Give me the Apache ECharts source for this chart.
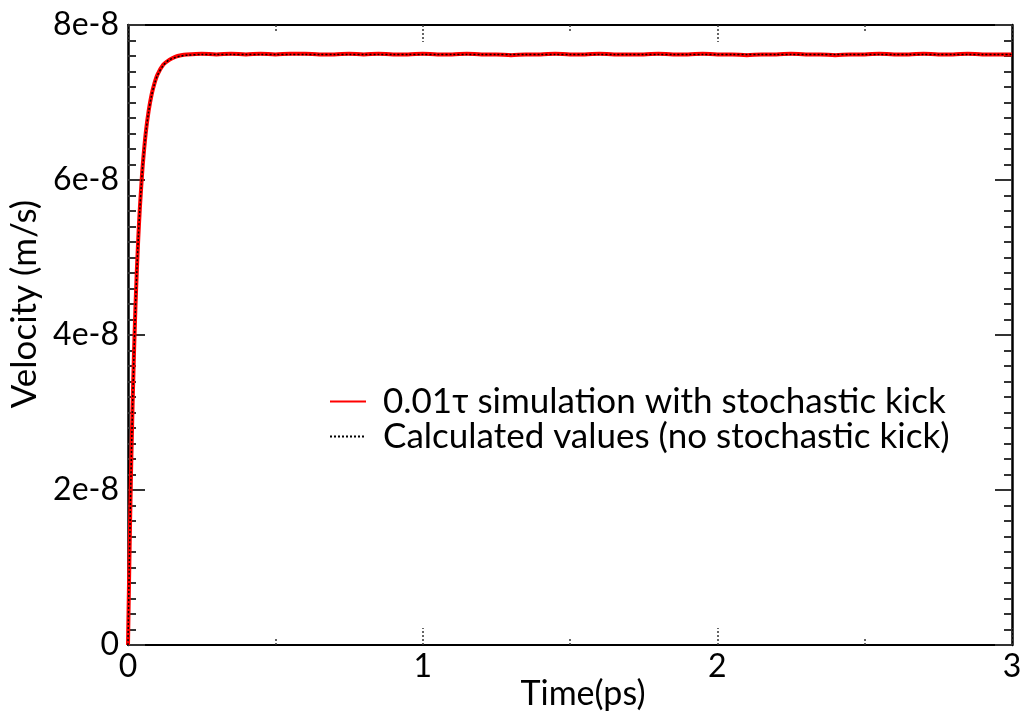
<!DOCTYPE html>
<html>
<head>
<meta charset="utf-8">
<script src="https://cdn.jsdelivr.net/npm/echarts@6/dist/echarts.min.js"></script>
<style>
  html, body { margin: 0; padding: 0; background: #fff; }
  #chart { width: 1023px; height: 717px; }
</style>
</head>
<body>
<div id="chart"></div>
<script>
// Time samples (ps)
const timePs = [0, 0.005, 0.01, 0.015, 0.02, 0.025, 0.03, 0.035, 0.04, 0.045, 0.05, 0.06, 0.07, 0.08, 0.09, 0.10,
  0.12, 0.14, 0.16, 0.18, 0.20, 0.25, 0.30, 0.35, 0.40, 0.45, 0.50, 0.55, 0.60, 0.65, 0.70, 0.75, 0.80, 0.85, 0.90, 0.95,
  1.00, 1.05, 1.10, 1.15, 1.20, 1.25, 1.30, 1.35, 1.40, 1.45, 1.50, 1.55, 1.60, 1.65, 1.70, 1.75, 1.80, 1.85, 1.90, 1.95,
  2.00, 2.05, 2.10, 2.15, 2.20, 2.25, 2.30, 2.35, 2.40, 2.45, 2.50, 2.55, 2.60, 2.65, 2.70, 2.75, 2.80, 2.85, 2.90, 2.95, 3.00];

// Velocity in units of 1e-8 m/s: simulation with stochastic kick
const velocitySim = [0, 1.15, 2.17, 3.01, 3.72, 4.33, 4.83, 5.26, 5.62, 5.92, 6.19, 6.60, 6.89, 7.10, 7.25, 7.36,
  7.49, 7.55, 7.59, 7.61, 7.62, 7.63, 7.62, 7.63, 7.62, 7.63, 7.62, 7.63, 7.63, 7.62, 7.62, 7.63, 7.62, 7.63, 7.62, 7.62,
  7.63, 7.62, 7.62, 7.63, 7.62, 7.62, 7.61, 7.62, 7.62, 7.63, 7.62, 7.62, 7.63, 7.62, 7.62, 7.62, 7.63, 7.62, 7.62, 7.63,
  7.62, 7.62, 7.61, 7.62, 7.62, 7.63, 7.62, 7.62, 7.61, 7.62, 7.62, 7.63, 7.62, 7.62, 7.63, 7.62, 7.62, 7.63, 7.62, 7.62, 7.62];

// Velocity in units of 1e-8 m/s: calculated values (no stochastic kick)
const velocityCalc = [0, 1.17, 2.16, 3.00, 3.71, 4.31, 4.82, 5.25, 5.61, 5.92, 6.18, 6.59, 6.88, 7.09, 7.24, 7.35,
  7.48, 7.55, 7.58, 7.60, 7.61, 7.62, 7.62, 7.62, 7.62, 7.62, 7.62, 7.62, 7.62, 7.62, 7.62, 7.62, 7.62, 7.62, 7.62, 7.62,
  7.62, 7.62, 7.62, 7.62, 7.62, 7.62, 7.62, 7.62, 7.62, 7.62, 7.62, 7.62, 7.62, 7.62, 7.62, 7.62, 7.62, 7.62, 7.62, 7.62,
  7.62, 7.62, 7.62, 7.62, 7.62, 7.62, 7.62, 7.62, 7.62, 7.62, 7.62, 7.62, 7.62, 7.62, 7.62, 7.62, 7.62, 7.62, 7.62, 7.62, 7.62];

const seriesNames = ['0.01τ simulation with stochastic kick', 'Calculated values (no stochastic kick)'];
const yTickLabels = { 0: '0', 2: '2e-8', 4: '4e-8', 6: '6e-8', 8: '8e-8' };

const FONT = 'Lato';
const chart = echarts.init(document.getElementById('chart'));

const pair = (xs, ys) => xs.map((x, i) => [x, ys[i]]);

// Frame axes: ticks point into the plot on all four sides
const xTickCommon = {
  type: 'value', min: 0, max: 3, interval: 1,
  axisLine: { show: true, onZero: false, lineStyle: { color: '#000', width: 2 } },
  axisTick: { show: true, inside: true, length: 17, lineStyle: { color: '#333', width: 1.5, type: [2, 2] } },
  minorTick: { show: true, splitNumber: 2, length: 8, lineStyle: { color: '#333', width: 1.5, type: [2, 2] } },
  splitLine: { show: false }
};
const yTickCommon = {
  type: 'value', min: 0, max: 8, interval: 2,
  axisLine: { show: true, onZero: false, lineStyle: { color: '#000', width: 2.5 } },
  axisTick: { show: true, inside: true, length: 17, lineStyle: { color: '#333', width: 2 } },
  minorTick: { show: true, splitNumber: 10, length: 8, lineStyle: { color: '#333', width: 2 } },
  splitLine: { show: false }
};

chart.setOption({
  animation: false,
  backgroundColor: '#fff',
  grid: { left: 128, right: 11, top: 25, bottom: 72, containLabel: false, outerBoundsMode: 'none' },
  legend: {
    orient: 'vertical', left: 324, top: 379, itemGap: 0,
    itemWidth: 36, itemHeight: 14,
    data: seriesNames,
    itemStyle: { opacity: 0 },
    textStyle: { fontFamily: FONT, fontSize: 35, color: '#000', lineHeight: 32, padding: [0, 0, 0, 12] }
  },
  xAxis: [
    Object.assign({}, xTickCommon, {
      position: 'bottom',
      name: 'Time(ps)', nameLocation: 'middle', nameGap: 32, nameMoveOverlap: false,
      nameTextStyle: { fontFamily: FONT, fontSize: 34, color: '#000', padding: [0, 0, 0, 26] },
      axisLabel: { show: true, margin: 6, fontFamily: FONT, fontSize: 32, color: '#000' }
    }),
    Object.assign({}, xTickCommon, { position: 'top', axisLabel: { show: false } })
  ],
  yAxis: [
    Object.assign({}, yTickCommon, {
      position: 'left',
      name: 'Velocity (m/s)', nameLocation: 'middle', nameGap: 86,
      nameTextStyle: { fontFamily: FONT, fontSize: 35, color: '#000', padding: [0, 0, 0, 62] },
      axisLabel: { show: true, margin: 9, fontFamily: FONT, fontSize: 32, color: '#000',
        formatter: v => yTickLabels[v] !== undefined ? yTickLabels[v] : '' }
    }),
    Object.assign({}, yTickCommon, { position: 'right', axisLabel: { show: false } })
  ],
  series: [
    {
      name: seriesNames[0], type: 'line', data: pair(timePs, velocitySim),
      showSymbol: false, symbol: 'none', smooth: 0.3,
      lineStyle: { color: '#ff0000', width: 4 }, itemStyle: { color: '#ff0000' }, z: 2
    },
    {
      name: seriesNames[1], type: 'line', data: pair(timePs, velocityCalc),
      showSymbol: false, symbol: 'none', smooth: 0.3,
      lineStyle: { color: '#000', width: 1.5, type: [2, 2] }, itemStyle: { color: '#000' }, z: 3
    }
  ]
});
</script>
</body>
</html>
